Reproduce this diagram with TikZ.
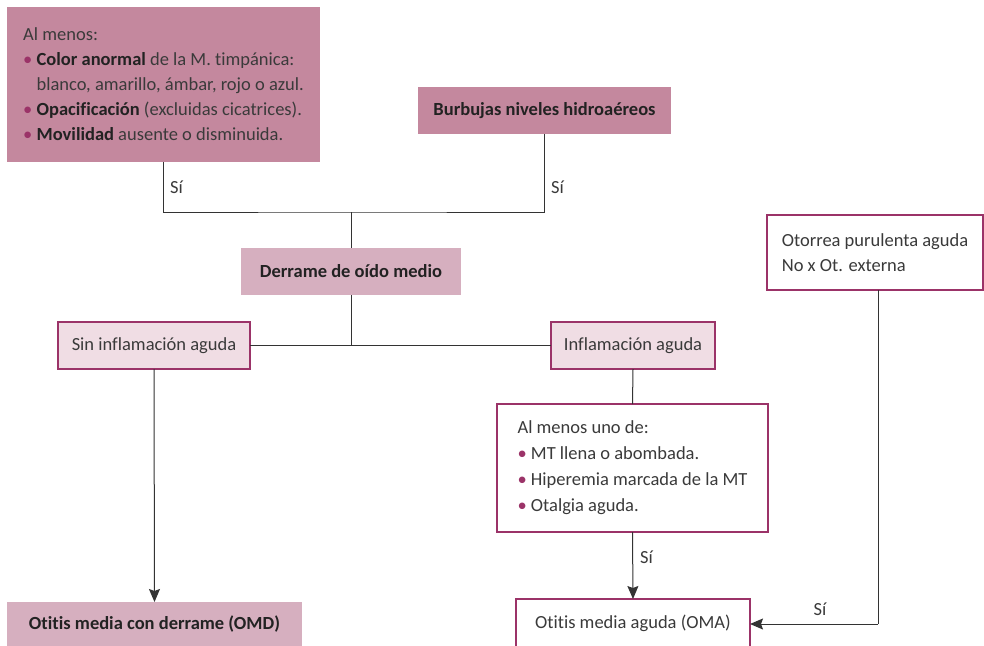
\documentclass[tikz,border=0pt]{standalone}
\usepackage{fontspec}
\setmainfont{Carlito}[Ligatures=NoCommon]
\usetikzlibrary{arrows.meta}
\definecolor{dpink}{HTML}{C4889E}
\definecolor{mpink}{HTML}{D6AFBF}
\definecolor{lpink}{HTML}{F0DDE4}
\definecolor{mag}{HTML}{9B3368}
\definecolor{txt}{HTML}{3A3A3A}
\definecolor{dtxt}{HTML}{222222}
\definecolor{ln}{HTML}{333333}
\newcommand{\bul}{\textcolor{mag}{\textbullet}\ }
\newcommand{\md}[1]{\textcolor{dtxt}{\textbf{#1}}}
\begin{document}
\begin{tikzpicture}[x=1pt,y=-1pt,
  font=\fontsize{18.5}{25}\selectfont, text=txt,
  box/.style={rectangle, inner sep=0pt, outer sep=0pt, align=left},
  dbox/.style={box, fill=dpink},
  mbox/.style={box, fill=mpink},
  lbox/.style={box, fill=lpink, draw=mag, line width=1.2pt},
  wbox/.style={box, fill=white, draw=mag, line width=1.2pt},
  conn/.style={draw=ln, line width=1pt},
  arr/.style={conn, -{Stealth[length=13pt,width=11pt,inset=2pt]}},
  lab/.style={inner sep=0pt, anchor=west}]
\useasboundingbox (0,0) rectangle (984,645);
% boxes
\node[dbox, minimum width=313pt, minimum height=155pt] (b1) at (163.5,84.5)
  {Al menos:\\
   \bul\md{Color anormal} de la M. timpánica:\\
   \phantom{\bul}blanco, amarillo, ámbar, rojo o azul.\\
   \bul\md{Opacificación} (excluidas cicatrices).\\
   \bul\md{Movilidad} ausente o disminuida.};
\node[dbox, minimum width=253pt, minimum height=47pt] (b2) at (544.5,110.5)
  {\md{Burbujas niveles hidroaéreos}};
\node[mbox, minimum width=220pt, minimum height=47pt] (der) at (351,271.5)
  {\md{Derrame de oído medio}};
\node[lbox, minimum width=192pt, minimum height=47pt] (sin) at (154,345.5)
  {Sin inflamación aguda};
\node[lbox, minimum width=164pt, minimum height=47pt] (inf) at (633,345.5)
  {Inflamación aguda};
\node[wbox, minimum width=271pt, minimum height=128pt, font=\fontsize{18.5}{26}\selectfont] (alm) at (632.5,468)
  {Al menos uno de:\\
   \bul MT llena o abombada.\\
   \bul Hiperemia marcada de la MT\\
   \bul Otalgia aguda.};
\node[wbox, minimum width=234pt, minimum height=49pt] (oma) at (633,623.5)
  {Otitis media aguda (OMA)};
\node[wbox, minimum width=216pt, minimum height=75pt] (oto) at (875,252.5)
  {Otorrea purulenta aguda\\No x Ot. externa};
\node[mbox, minimum width=295pt, minimum height=44pt] (omd) at (154.5,624)
  {\md{Otitis media con derrame (OMD)}};
% connectors
\coordinate (j1) at (351,212);
\coordinate (j2) at (351,345.5);
\coordinate (k) at (878,624);
\draw[conn] (b1.south) |- (j1) -| (b2.south);
\draw[conn] (j1) -- (der.north);
\draw[conn] (der.south) -- (j2);
\draw[conn] (sin.east) -- (inf.west);
\draw[conn] (inf.south) -- (alm.north);
\draw[arr] (alm.south) -- (oma.north);
\draw[arr] (sin.south) -- (omd.north);
\draw[conn] (oto.south -| k) -- (k);
\draw[arr] (k) -- (oma.east |- k);
% labels
\node[lab] (s1) at (170,187) {Sí};
\node[lab] (s2) at (551,187) {Sí};
\node[lab] (s3) at (640,557) {Sí};
\node[lab, anchor=center] (s4) at (820,609) {Sí};
\end{tikzpicture}
\end{document}
